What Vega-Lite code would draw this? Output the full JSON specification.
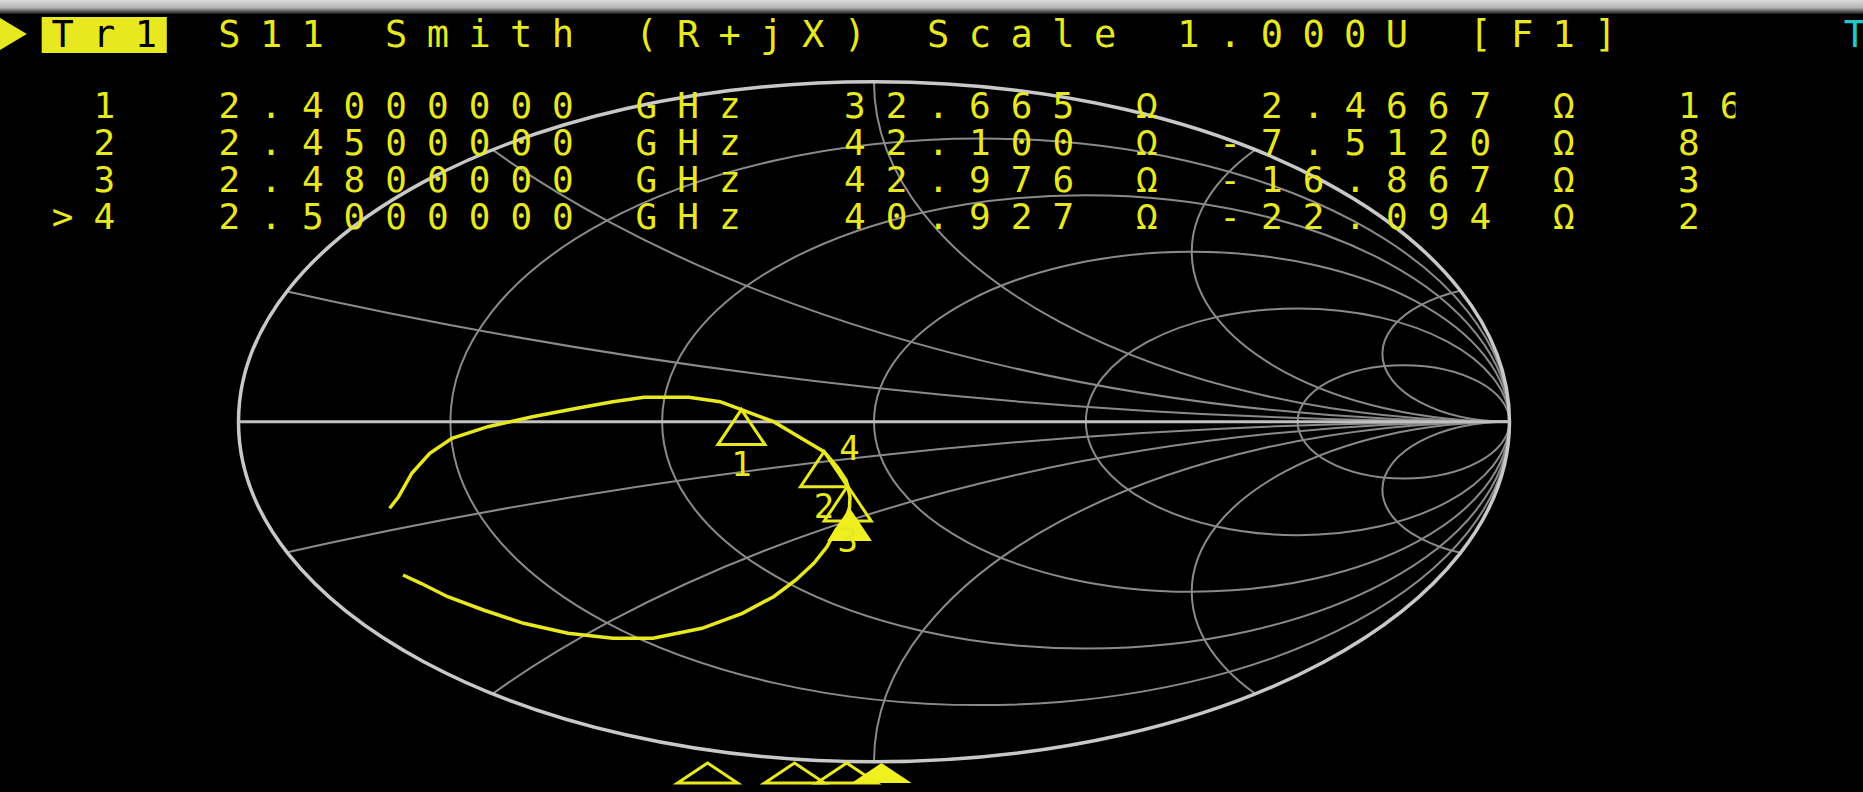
{
 "$schema": "https://vega.github.io/schema/vega-lite/v6.json",
 "width": 1863,
 "height": 792,
 "autosize": "none",
 "padding": 0,
 "background": "#000000",
 "config": {"view": {"stroke": null}},
 "datasets": {
  "rcirc": [
   {"r": 0.2, "cx": 0.1667, "cy": 0, "rad": 0.8333},
   {"r": 0.5, "cx": 0.3333, "cy": 0, "rad": 0.6667},
   {"r": 1, "cx": 0.5, "cy": 0, "rad": 0.5},
   {"r": 2, "cx": 0.6667, "cy": 0, "rad": 0.3333},
   {"r": 5, "cx": 0.8333, "cy": 0, "rad": 0.1667}
  ],
  "outer": [{"r": 0, "cx": 0, "cy": 0, "rad": 1}],
  "xarcs": [
   {"x": 0.2, "cx": 1, "cy": 5, "rad": 5},
   {"x": -0.2, "cx": 1, "cy": -5, "rad": 5},
   {"x": 0.5, "cx": 1, "cy": 2, "rad": 2},
   {"x": -0.5, "cx": 1, "cy": -2, "rad": 2},
   {"x": 1, "cx": 1, "cy": 1, "rad": 1},
   {"x": -1, "cx": 1, "cy": -1, "rad": 1},
   {"x": 2, "cx": 1, "cy": 0.5, "rad": 0.5},
   {"x": -2, "cx": 1, "cy": -0.5, "rad": 0.5},
   {"x": 5, "cx": 1, "cy": 0.2, "rad": 0.2},
   {"x": -5, "cx": 1, "cy": -0.2, "rad": 0.2}
  ],
  "trace": [
   {"i": 1, "gr": -0.7622, "gi": -0.2544},
   {"i": 2, "gr": -0.7481, "gi": -0.2203},
   {"i": 3, "gr": -0.7270, "gi": -0.1506},
   {"i": 4, "gr": -0.6990, "gi": -0.0926},
   {"i": 5, "gr": -0.6641, "gi": -0.0485},
   {"i": 6, "gr": -0.6076, "gi": -0.0144},
   {"i": 7, "gr": -0.5374, "gi": 0.0150},
   {"i": 8, "gr": -0.4673, "gi": 0.0397},
   {"i": 9, "gr": -0.4109, "gi": 0.0591},
   {"i": 10, "gr": -0.3619, "gi": 0.0721},
   {"i": 11, "gr": -0.2914, "gi": 0.0721},
   {"i": 12, "gr": -0.2423, "gi": 0.0591},
   {"i": 13, "gr": -0.2086, "gi": 0.0360},
   {"i": 14, "gr": -0.1580, "gi": 0.0003},
   {"i": 15, "gr": -0.1229, "gi": -0.0388},
   {"i": 16, "gr": -0.0991, "gi": -0.0653},
   {"i": 17, "gr": -0.0786, "gi": -0.0880},
   {"i": 18, "gr": -0.0566, "gi": -0.1359},
   {"i": 19, "gr": -0.0441, "gi": -0.1712},
   {"i": 20, "gr": -0.0413, "gi": -0.1889},
   {"i": 21, "gr": -0.0378, "gi": -0.2212},
   {"i": 22, "gr": -0.0385, "gi": -0.2524},
   {"i": 23, "gr": -0.0441, "gi": -0.2829},
   {"i": 24, "gr": -0.0598, "gi": -0.3182},
   {"i": 25, "gr": -0.0740, "gi": -0.3674},
   {"i": 26, "gr": -0.0947, "gi": -0.4162},
   {"i": 27, "gr": -0.1229, "gi": -0.4653},
   {"i": 28, "gr": -0.1580, "gi": -0.5144},
   {"i": 29, "gr": -0.2072, "gi": -0.5632},
   {"i": 30, "gr": -0.2707, "gi": -0.6074},
   {"i": 31, "gr": -0.3478, "gi": -0.6368},
   {"i": 32, "gr": -0.4109, "gi": -0.6368},
   {"i": 33, "gr": -0.4815, "gi": -0.6221},
   {"i": 34, "gr": -0.5514, "gi": -0.5926},
   {"i": 35, "gr": -0.6146, "gi": -0.5535},
   {"i": 36, "gr": -0.6708, "gi": -0.5144},
   {"i": 37, "gr": -0.7130, "gi": -0.4750},
   {"i": 38, "gr": -0.7412, "gi": -0.4506}
  ],
  "markers": [
   {"m": 1, "f": 2.40, "R": 32.665, "X": 2.4667, "gr": -0.2086, "gi": 0.0360},
   {"m": 2, "f": 2.45, "R": 42.100, "X": -7.5120, "gr": -0.0786, "gi": -0.0880},
   {"m": 3, "f": 2.48, "R": 42.976, "X": -16.867, "gr": -0.0413, "gi": -0.1889},
   {"m": 4, "f": 2.50, "R": 40.927, "X": -22.094, "gr": -0.0385, "gi": -0.2524}
  ],
  "tr1": [{"c": 1, "t": "T"}, {"c": 2, "t": "r"}, {"c": 3, "t": "1"}],
  "hdr": [
   {"c": 5, "t": "S"}, {"c": 6, "t": "1"}, {"c": 7, "t": "1"},
   {"c": 9, "t": "S"}, {"c": 10, "t": "m"}, {"c": 11, "t": "i"}, {"c": 12, "t": "t"}, {"c": 13, "t": "h"},
   {"c": 15, "t": "("}, {"c": 16, "t": "R"}, {"c": 17, "t": "+"}, {"c": 18, "t": "j"}, {"c": 19, "t": "X"}, {"c": 20, "t": ")"},
   {"c": 22, "t": "S"}, {"c": 23, "t": "c"}, {"c": 24, "t": "a"}, {"c": 25, "t": "l"}, {"c": 26, "t": "e"},
   {"c": 28, "t": "1"}, {"c": 29, "t": "."}, {"c": 30, "t": "0"}, {"c": 31, "t": "0"}, {"c": 32, "t": "0"}, {"c": 33, "t": "U"},
   {"c": 35, "t": "["}, {"c": 36, "t": "F"}, {"c": 37, "t": "1"}, {"c": 38, "t": "]"}
  ],
  "mk": [
   {"l": 2, "c": 2, "t": "1"},
   {"l": 2, "c": 5, "t": "2"}, {"l": 2, "c": 6, "t": "."}, {"l": 2, "c": 7, "t": "4"}, {"l": 2, "c": 8, "t": "0"}, {"l": 2, "c": 9, "t": "0"}, {"l": 2, "c": 10, "t": "0"}, {"l": 2, "c": 11, "t": "0"}, {"l": 2, "c": 12, "t": "0"}, {"l": 2, "c": 13, "t": "0"},
   {"l": 2, "c": 15, "t": "G"}, {"l": 2, "c": 16, "t": "H"}, {"l": 2, "c": 17, "t": "z"},
   {"l": 2, "c": 20, "t": "3"}, {"l": 2, "c": 21, "t": "2"}, {"l": 2, "c": 22, "t": "."}, {"l": 2, "c": 23, "t": "6"}, {"l": 2, "c": 24, "t": "6"}, {"l": 2, "c": 25, "t": "5"},
   {"l": 2, "c": 27, "t": "Ω"},
   {"l": 2, "c": 30, "t": "2"}, {"l": 2, "c": 31, "t": "."}, {"l": 2, "c": 32, "t": "4"}, {"l": 2, "c": 33, "t": "6"}, {"l": 2, "c": 34, "t": "6"}, {"l": 2, "c": 35, "t": "7"},
   {"l": 2, "c": 37, "t": "Ω"},
   {"l": 2, "c": 40, "t": "1"}, {"l": 2, "c": 41, "t": "6"},
   {"l": 3, "c": 2, "t": "2"},
   {"l": 3, "c": 5, "t": "2"}, {"l": 3, "c": 6, "t": "."}, {"l": 3, "c": 7, "t": "4"}, {"l": 3, "c": 8, "t": "5"}, {"l": 3, "c": 9, "t": "0"}, {"l": 3, "c": 10, "t": "0"}, {"l": 3, "c": 11, "t": "0"}, {"l": 3, "c": 12, "t": "0"}, {"l": 3, "c": 13, "t": "0"},
   {"l": 3, "c": 15, "t": "G"}, {"l": 3, "c": 16, "t": "H"}, {"l": 3, "c": 17, "t": "z"},
   {"l": 3, "c": 20, "t": "4"}, {"l": 3, "c": 21, "t": "2"}, {"l": 3, "c": 22, "t": "."}, {"l": 3, "c": 23, "t": "1"}, {"l": 3, "c": 24, "t": "0"}, {"l": 3, "c": 25, "t": "0"},
   {"l": 3, "c": 27, "t": "Ω"},
   {"l": 3, "c": 29, "t": "-"}, {"l": 3, "c": 30, "t": "7"}, {"l": 3, "c": 31, "t": "."}, {"l": 3, "c": 32, "t": "5"}, {"l": 3, "c": 33, "t": "1"}, {"l": 3, "c": 34, "t": "2"}, {"l": 3, "c": 35, "t": "0"},
   {"l": 3, "c": 37, "t": "Ω"},
   {"l": 3, "c": 40, "t": "8"},
   {"l": 4, "c": 2, "t": "3"},
   {"l": 4, "c": 5, "t": "2"}, {"l": 4, "c": 6, "t": "."}, {"l": 4, "c": 7, "t": "4"}, {"l": 4, "c": 8, "t": "8"}, {"l": 4, "c": 9, "t": "0"}, {"l": 4, "c": 10, "t": "0"}, {"l": 4, "c": 11, "t": "0"}, {"l": 4, "c": 12, "t": "0"}, {"l": 4, "c": 13, "t": "0"},
   {"l": 4, "c": 15, "t": "G"}, {"l": 4, "c": 16, "t": "H"}, {"l": 4, "c": 17, "t": "z"},
   {"l": 4, "c": 20, "t": "4"}, {"l": 4, "c": 21, "t": "2"}, {"l": 4, "c": 22, "t": "."}, {"l": 4, "c": 23, "t": "9"}, {"l": 4, "c": 24, "t": "7"}, {"l": 4, "c": 25, "t": "6"},
   {"l": 4, "c": 27, "t": "Ω"},
   {"l": 4, "c": 29, "t": "-"}, {"l": 4, "c": 30, "t": "1"}, {"l": 4, "c": 31, "t": "6"}, {"l": 4, "c": 32, "t": "."}, {"l": 4, "c": 33, "t": "8"}, {"l": 4, "c": 34, "t": "6"}, {"l": 4, "c": 35, "t": "7"},
   {"l": 4, "c": 37, "t": "Ω"},
   {"l": 4, "c": 40, "t": "3"},
   {"l": 5, "c": 1, "t": ">"}, {"l": 5, "c": 2, "t": "4"},
   {"l": 5, "c": 5, "t": "2"}, {"l": 5, "c": 6, "t": "."}, {"l": 5, "c": 7, "t": "5"}, {"l": 5, "c": 8, "t": "0"}, {"l": 5, "c": 9, "t": "0"}, {"l": 5, "c": 10, "t": "0"}, {"l": 5, "c": 11, "t": "0"}, {"l": 5, "c": 12, "t": "0"}, {"l": 5, "c": 13, "t": "0"},
   {"l": 5, "c": 15, "t": "G"}, {"l": 5, "c": 16, "t": "H"}, {"l": 5, "c": 17, "t": "z"},
   {"l": 5, "c": 20, "t": "4"}, {"l": 5, "c": 21, "t": "0"}, {"l": 5, "c": 22, "t": "."}, {"l": 5, "c": 23, "t": "9"}, {"l": 5, "c": 24, "t": "2"}, {"l": 5, "c": 25, "t": "7"},
   {"l": 5, "c": 27, "t": "Ω"},
   {"l": 5, "c": 29, "t": "-"}, {"l": 5, "c": 30, "t": "2"}, {"l": 5, "c": 31, "t": "2"}, {"l": 5, "c": 32, "t": "."}, {"l": 5, "c": 33, "t": "0"}, {"l": 5, "c": 34, "t": "9"}, {"l": 5, "c": 35, "t": "4"},
   {"l": 5, "c": 37, "t": "Ω"},
   {"l": 5, "c": 40, "t": "2"}
  ]
 },
 "layer": [
  {
   "layer": [
    {
     "data": {"name": "xarcs"},
     "mark": {"type": "point", "shape": "m -1 0 a 1 0.535 0 1 0 2 0 a 1 0.535 0 1 0 -2 0 z", "filled": false, "color": "#8a8a8a", "strokeWidth": 2, "opacity": 1},
     "encoding": {
      "x": {"field": "cx", "type": "quantitative", "scale": {"domain": [-1.3753, 1.5563], "nice": false, "zero": false}, "axis": null},
      "y": {"field": "cy", "type": "quantitative", "scale": {"domain": [-1.0888, 1.2406], "nice": false, "zero": false}, "axis": null},
      "size": {"field": "rad", "type": "quantitative", "scale": {"type": "pow", "exponent": 2, "domain": [0, 5], "range": [0, 40386025], "nice": false}, "legend": null}
     }
    },
    {
     "data": {"name": "outer"},
     "mark": {"type": "point", "shape": "m -3 -3 l 6 0 l 0 6 l -6 0 z m 2 3 a 1 0.535 0 1 0 2 0 a 1 0.535 0 1 0 -2 0 z", "filled": true, "color": "#000000", "strokeWidth": 0, "opacity": 1},
     "encoding": {
      "x": {"field": "cx", "type": "quantitative", "scale": {"domain": [-1.3753, 1.5563], "nice": false, "zero": false}, "axis": null},
      "y": {"field": "cy", "type": "quantitative", "scale": {"domain": [-1.0888, 1.2406], "nice": false, "zero": false}, "axis": null},
      "size": {"field": "rad", "type": "quantitative", "scale": {"type": "pow", "exponent": 2, "domain": [0, 5], "range": [0, 40386025], "nice": false}, "legend": null}
     }
    },
    {
     "data": {"name": "rcirc"},
     "mark": {"type": "point", "shape": "m -1 0 a 1 0.535 0 1 0 2 0 a 1 0.535 0 1 0 -2 0 z", "filled": false, "color": "#8a8a8a", "strokeWidth": 2, "opacity": 1},
     "encoding": {
      "x": {"field": "cx", "type": "quantitative", "scale": {"domain": [-1.3753, 1.5563], "nice": false, "zero": false}, "axis": null},
      "y": {"field": "cy", "type": "quantitative", "scale": {"domain": [-1.0888, 1.2406], "nice": false, "zero": false}, "axis": null},
      "size": {"field": "rad", "type": "quantitative", "scale": {"type": "pow", "exponent": 2, "domain": [0, 5], "range": [0, 40386025], "nice": false}, "legend": null}
     }
    },
    {
     "data": {"name": "outer"},
     "mark": {"type": "point", "shape": "m -1 0 a 1 0.535 0 1 0 2 0 a 1 0.535 0 1 0 -2 0 z", "filled": false, "color": "#c8c8c8", "strokeWidth": 3.5, "opacity": 1},
     "encoding": {
      "x": {"field": "cx", "type": "quantitative", "scale": {"domain": [-1.3753, 1.5563], "nice": false, "zero": false}, "axis": null},
      "y": {"field": "cy", "type": "quantitative", "scale": {"domain": [-1.0888, 1.2406], "nice": false, "zero": false}, "axis": null},
      "size": {"field": "rad", "type": "quantitative", "scale": {"type": "pow", "exponent": 2, "domain": [0, 5], "range": [0, 40386025], "nice": false}, "legend": null}
     }
    },
    {
     "data": {"values": [{"x0": -1, "x1": 1, "y0": 0}]},
     "mark": {"type": "rule", "color": "#c0c0c0", "strokeWidth": 3},
     "encoding": {
      "x": {"field": "x0", "type": "quantitative", "scale": {"domain": [-1.3753, 1.5563], "nice": false, "zero": false}, "axis": null},
      "x2": {"field": "x1"},
      "y": {"field": "y0", "type": "quantitative", "scale": {"domain": [-1.0888, 1.2406], "nice": false, "zero": false}, "axis": null}
     }
    },
    {
     "data": {"name": "trace"},
     "mark": {"type": "line", "color": "#e8e820", "strokeWidth": 3.5},
     "encoding": {
      "x": {"field": "gr", "type": "quantitative", "scale": {"domain": [-1.3753, 1.5563], "nice": false, "zero": false}, "axis": null},
      "y": {"field": "gi", "type": "quantitative", "scale": {"domain": [-1.0888, 1.2406], "nice": false, "zero": false}, "axis": null},
      "order": {"field": "i", "type": "quantitative"}
     }
    },
    {
     "data": {"name": "markers"},
     "transform": [{"filter": "datum.m < 4"}],
     "mark": {"type": "point", "shape": "m 0 0 l 1 1.49 l -2 0 z", "size": 2209, "filled": false, "color": "#e8e820", "strokeWidth": 3, "opacity": 1},
     "encoding": {
      "x": {"field": "gr", "type": "quantitative", "scale": {"domain": [-1.3753, 1.5563], "nice": false, "zero": false}, "axis": null},
      "y": {"field": "gi", "type": "quantitative", "scale": {"domain": [-1.0888, 1.2406], "nice": false, "zero": false}, "axis": null}
     }
    },
    {
     "data": {"name": "markers"},
     "transform": [{"filter": "datum.m == 4"}],
     "mark": {"type": "point", "shape": "m 0 0 l 1 1.49 l -2 0 z", "size": 2000, "filled": true, "color": "#f0f020", "opacity": 1},
     "encoding": {
      "x": {"field": "gr", "type": "quantitative", "scale": {"domain": [-1.3753, 1.5563], "nice": false, "zero": false}, "axis": null},
      "y": {"field": "gi", "type": "quantitative", "scale": {"domain": [-1.0888, 1.2406], "nice": false, "zero": false}, "axis": null}
     }
    },
    {
     "data": {"name": "markers"},
     "transform": [{"filter": "datum.m < 4"}],
     "mark": {"type": "text", "font": "DejaVu Sans Mono", "fontSize": 34, "align": "center", "baseline": "middle", "dy": 56, "color": "#e8e820"},
     "encoding": {
      "x": {"field": "gr", "type": "quantitative", "scale": {"domain": [-1.3753, 1.5563], "nice": false, "zero": false}, "axis": null},
      "y": {"field": "gi", "type": "quantitative", "scale": {"domain": [-1.0888, 1.2406], "nice": false, "zero": false}, "axis": null},
      "text": {"field": "m", "type": "nominal"}
     }
    },
    {
     "data": {"name": "markers"},
     "transform": [{"filter": "datum.m == 4"}],
     "mark": {"type": "text", "font": "DejaVu Sans Mono", "fontSize": 34, "align": "center", "baseline": "middle", "dy": -58, "color": "#e8e820"},
     "encoding": {
      "x": {"field": "gr", "type": "quantitative", "scale": {"domain": [-1.3753, 1.5563], "nice": false, "zero": false}, "axis": null},
      "y": {"field": "gi", "type": "quantitative", "scale": {"domain": [-1.0888, 1.2406], "nice": false, "zero": false}, "axis": null},
      "text": {"field": "m", "type": "nominal"}
     }
    }
   ]
  },
  {
   "data": {"name": "markers"},
   "layer": [
    {
     "transform": [{"filter": "datum.m < 4"}],
     "mark": {"type": "point", "shape": "m 0 0 l 1 0.667 l -2 0 z", "size": 3600, "filled": false, "color": "#e8e820", "strokeWidth": 3, "opacity": 1},
     "encoding": {
      "x": {"field": "f", "type": "quantitative", "scale": {"domain": [1.9932, 3.0643], "nice": false, "zero": false}, "axis": null},
      "y": {"datum": -1.0035, "type": "quantitative", "scale": {"domain": [-1.0888, 1.2406], "nice": false, "zero": false}, "axis": null}
     }
    },
    {
     "transform": [{"filter": "datum.m == 4"}],
     "mark": {"type": "point", "shape": "m 0 0 l 1 0.667 l -2 0 z", "size": 3600, "filled": true, "color": "#f0f020", "opacity": 1},
     "encoding": {
      "x": {"field": "f", "type": "quantitative", "scale": {"domain": [1.9932, 3.0643], "nice": false, "zero": false}, "axis": null},
      "y": {"datum": -1.0035, "type": "quantitative", "scale": {"domain": [-1.0888, 1.2406], "nice": false, "zero": false}, "axis": null}
     }
    }
   ]
  },
  {
   "layer": [
    {
     "data": {"values": [{"a": -0.5, "b": 44.3, "y0": -1.19, "y1": -0.81}]},
     "mark": {"type": "rect", "color": {"gradient": "linear", "x1": 0, "y1": 0, "x2": 0, "y2": 1, "stops": [{"offset": 0, "color": "#dcdcdc"}, {"offset": 0.55, "color": "#b4b4b4"}, {"offset": 1, "color": "#1a1a1a"}]}},
     "encoding": {
      "x": {"field": "a", "type": "quantitative", "scale": {"domain": [-0.5, 44.176], "nice": false, "zero": false}, "axis": null},
      "x2": {"field": "b"},
      "y": {"field": "y0", "type": "quantitative", "scale": {"domain": [-1.189, 20.216], "reverse": true, "nice": false, "zero": false}, "axis": null},
      "y2": {"field": "y1"}
     }
    },
    {
     "data": {"values": [{"a": 0.5, "b": 3.5, "y0": -0.73, "y1": 0.243}]},
     "mark": {"type": "rect", "color": "#e8e820"},
     "encoding": {
      "x": {"field": "a", "type": "quantitative", "scale": {"domain": [-0.5, 44.176], "nice": false, "zero": false}, "axis": null},
      "x2": {"field": "b"},
      "y": {"field": "y0", "type": "quantitative", "scale": {"domain": [-1.189, 20.216], "reverse": true, "nice": false, "zero": false}, "axis": null},
      "y2": {"field": "y1"}
     }
    },
    {
     "data": {"values": [{"c": -0.18, "l": -0.27}]},
     "mark": {"type": "point", "shape": "m -1 -1.185 l 2 1.185 l -2 1.185 z", "size": 729, "filled": true, "color": "#e8e820", "opacity": 1},
     "encoding": {
      "x": {"field": "c", "type": "quantitative", "scale": {"domain": [-0.5, 44.176], "nice": false, "zero": false}, "axis": null},
      "y": {"field": "l", "type": "quantitative", "scale": {"domain": [-1.189, 20.216], "reverse": true, "nice": false, "zero": false}, "axis": null}
     }
    },
    {
     "data": {"name": "hdr"},
     "mark": {"type": "text", "font": "DejaVu Sans Mono", "fontSize": 37, "align": "center", "baseline": "alphabetic", "dy": 3, "color": "#e8e820"},
     "encoding": {
      "x": {"field": "c", "type": "quantitative", "scale": {"domain": [-0.5, 44.176], "nice": false, "zero": false}, "axis": null},
      "y": {"datum": 0, "type": "quantitative", "scale": {"domain": [-1.189, 20.216], "reverse": true, "nice": false, "zero": false}, "axis": null},
      "text": {"field": "t", "type": "nominal"}
     }
    },
    {
     "data": {"name": "tr1"},
     "mark": {"type": "text", "font": "DejaVu Sans Mono", "fontSize": 37, "align": "center", "baseline": "alphabetic", "dy": 3, "color": "#000000"},
     "encoding": {
      "x": {"field": "c", "type": "quantitative", "scale": {"domain": [-0.5, 44.176], "nice": false, "zero": false}, "axis": null},
      "y": {"datum": 0, "type": "quantitative", "scale": {"domain": [-1.189, 20.216], "reverse": true, "nice": false, "zero": false}, "axis": null},
      "text": {"field": "t", "type": "nominal"}
     }
    },
    {
     "data": {"values": [{"c": 44, "t": "T"}]},
     "mark": {"type": "text", "font": "DejaVu Sans Mono", "fontSize": 37, "align": "left", "baseline": "alphabetic", "dx": -12, "dy": 3, "color": "#22c8c8"},
     "encoding": {
      "x": {"field": "c", "type": "quantitative", "scale": {"domain": [-0.5, 44.176], "nice": false, "zero": false}, "axis": null},
      "y": {"datum": 0, "type": "quantitative", "scale": {"domain": [-1.189, 20.216], "reverse": true, "nice": false, "zero": false}, "axis": null},
      "text": {"field": "t", "type": "nominal"}
     }
    },
    {
     "data": {"name": "mk"},
     "mark": {"type": "text", "font": "DejaVu Sans Mono", "fontSize": 36, "align": "center", "baseline": "alphabetic", "color": "#e8e820"},
     "encoding": {
      "x": {"field": "c", "type": "quantitative", "scale": {"domain": [-0.5, 44.176], "nice": false, "zero": false}, "axis": null},
      "y": {"field": "l", "type": "quantitative", "scale": {"domain": [-1.189, 20.216], "reverse": true, "nice": false, "zero": false}, "axis": null},
      "text": {"field": "t", "type": "nominal"}
     }
    },
    {
     "data": {"values": [{"a": 41.12, "b": 44.3, "y0": 0.9, "y1": 5.6}]},
     "mark": {"type": "rect", "color": "#000000"},
     "encoding": {
      "x": {"field": "a", "type": "quantitative", "scale": {"domain": [-0.5, 44.176], "nice": false, "zero": false}, "axis": null},
      "x2": {"field": "b"},
      "y": {"field": "y0", "type": "quantitative", "scale": {"domain": [-1.189, 20.216], "reverse": true, "nice": false, "zero": false}, "axis": null},
      "y2": {"field": "y1"}
     }
    }
   ]
  }
 ],
 "resolve": {"scale": {"x": "independent", "y": "independent", "size": "independent"}}
}
